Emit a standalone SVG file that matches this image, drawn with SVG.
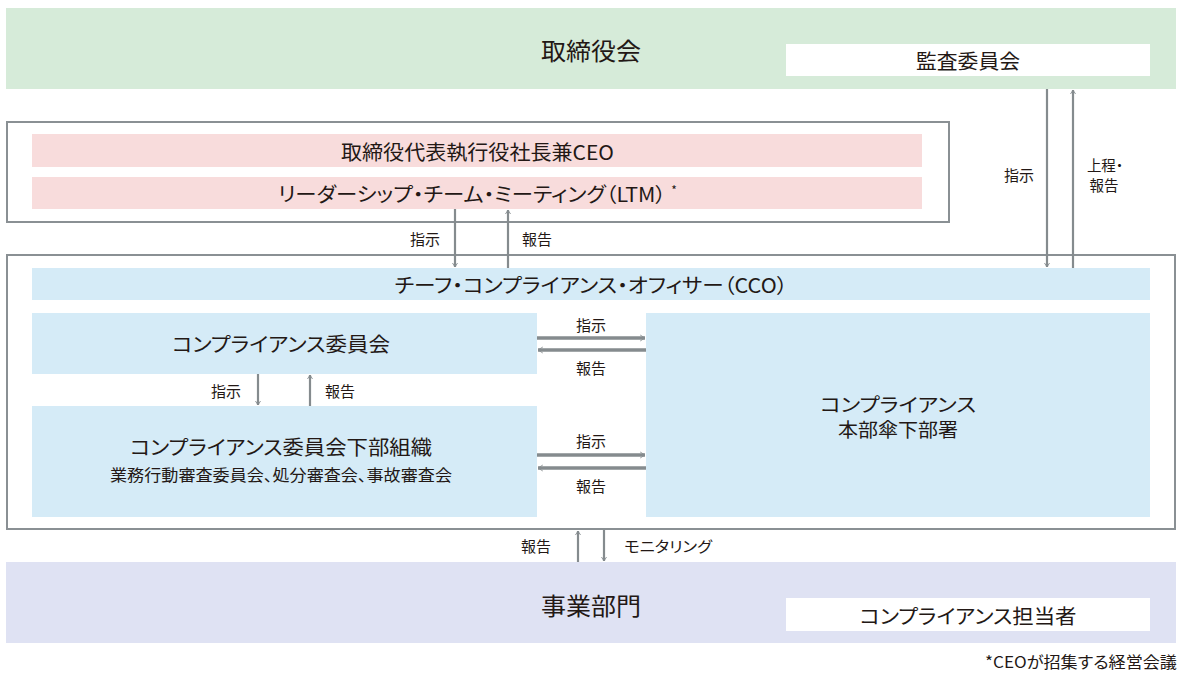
<svg xmlns="http://www.w3.org/2000/svg" width="1188" height="677" viewBox="0 0 1188 677">
<style>
text{font-family:"Noto Sans CJK JP","Noto Sans",sans-serif;fill:#231815;text-anchor:middle;dominant-baseline:central;font-feature-settings:"palt"}
.t25{font-size:24px}
.t20{font-size:20px}
.t16{font-size:16px}
.lb{font-size:15px}
.frame{fill:#fff;stroke:#8a9094;stroke-width:2}
.pink{fill:#f8dcdc}
.blue{fill:#d5ebf7}
.ln{stroke:#858b8e;stroke-width:2.2;fill:none;marker-end:url(#ah)}
.lh{stroke:#858b8e;stroke-width:3.5;fill:none;marker-end:url(#ah2)}
</style>
<defs>
<marker id="ah" viewBox="0 0 10 10" refX="9" refY="5" markerWidth="5" markerHeight="5" markerUnits="userSpaceOnUse" orient="auto" overflow="visible">
<path d="M1,0 L9,5 L1,10" fill="none" stroke="#858b8e" stroke-width="1.8"/>
</marker>
<marker id="ah2" viewBox="0 0 10 10" refX="9" refY="5" markerWidth="6" markerHeight="8" markerUnits="userSpaceOnUse" orient="auto" overflow="visible">
<path d="M1,0 L9,5 L1,10" fill="none" stroke="#858b8e" stroke-width="1.4"/>
</marker>
</defs>
<rect width="1188" height="677" fill="#fff"/>
<g id="board">
<rect x="6" y="8" width="1170" height="81" fill="#d6ebd9"/>
<text class="t25" x="591" y="49" textLength="100" lengthAdjust="spacingAndGlyphs">取締役会</text>
</g>
<g id="audit">
<rect x="786" y="44" width="364" height="32" fill="#fff"/>
<text class="t20" x="968" y="60" textLength="104" lengthAdjust="spacingAndGlyphs">監査委員会</text>
</g>
<g id="exec">
<rect class="frame" x="7" y="122" width="942" height="100"/>
<rect class="pink" x="32" y="134" width="890" height="33"/>
<text class="t20" x="477.5" y="151" textLength="273" lengthAdjust="spacingAndGlyphs">取締役代表執行役社長兼CEO</text>
<rect class="pink" x="32" y="177" width="890" height="32"/>
<text class="t20" x="472" y="193" textLength="388" lengthAdjust="spacingAndGlyphs">リーダーシップ・チーム・ミーティング（LTM）</text>
<text x="674" y="189" font-size="12">*</text>
</g>
<g id="compliance">
<rect class="frame" x="7" y="255" width="1168" height="274"/>
</g>
<g id="cco">
<rect class="blue" x="32" y="268" width="1118" height="32"/>
<text class="t20" x="591" y="284" textLength="393" lengthAdjust="spacingAndGlyphs">チーフ・コンプライアンス・オフィサー（CCO）</text>
</g>
<g id="committee">
<rect class="blue" x="32" y="313" width="505" height="61"/>
<text class="t20" x="281" y="343" textLength="218" lengthAdjust="spacingAndGlyphs">コンプライアンス委員会</text>
</g>
<g id="subcommittee">
<rect class="blue" x="32" y="406" width="505" height="111"/>
<text class="t20" x="281" y="446" textLength="302" lengthAdjust="spacingAndGlyphs">コンプライアンス委員会下部組織</text>
<text class="t16" x="281" y="474" textLength="342" lengthAdjust="spacingAndGlyphs">業務行動審査委員会、処分審査会、事故審査会</text>
</g>
<g id="hq">
<rect class="blue" x="646" y="313" width="504" height="204"/>
<text x="898" y="403" font-size="19" textLength="156" lengthAdjust="spacingAndGlyphs">コンプライアンス</text>
<text x="898" y="428" font-size="19" textLength="120" lengthAdjust="spacingAndGlyphs">本部傘下部署</text>
</g>
<g id="business">
<rect x="6" y="562" width="1170" height="81" fill="#dfe2f3"/>
<text class="t25" x="591" y="604" textLength="100" lengthAdjust="spacingAndGlyphs">事業部門</text>
</g>
<g id="officer">
<rect x="786" y="598" width="364" height="33" fill="#fff"/>
<text class="t20" x="968" y="615" textLength="217" lengthAdjust="spacingAndGlyphs">コンプライアンス担当者</text>
</g>
<g id="connectors">
<line class="ln" x1="455" y1="209" x2="455" y2="267"/>
<line class="ln" x1="508" y1="268" x2="508" y2="210"/>
<text class="lb" x="425" y="238">指示</text>
<text class="lb" x="537" y="238">報告</text>
<line class="ln" x1="1047" y1="89" x2="1047" y2="267"/>
<line class="ln" x1="1073" y1="268" x2="1073" y2="90"/>
<text class="lb" x="1019" y="174">指示</text>
<text x="1105" y="164" font-size="14.5">上程・</text>
<text x="1104" y="184" font-size="14.5">報告</text>
<line class="ln" x1="258" y1="374" x2="258" y2="405"/>
<line class="ln" x1="310" y1="406" x2="310" y2="375"/>
<text class="lb" x="226" y="390">指示</text>
<text class="lb" x="340" y="390">報告</text>
<line class="lh" x1="537" y1="338" x2="645" y2="338"/>
<line class="lh" x1="646" y1="350" x2="538" y2="350"/>
<text class="lb" x="591" y="324">指示</text>
<text class="lb" x="591" y="367">報告</text>
<line class="lh" x1="537" y1="455" x2="645" y2="455"/>
<line class="lh" x1="646" y1="468" x2="538" y2="468"/>
<text class="lb" x="591" y="440">指示</text>
<text class="lb" x="591" y="485">報告</text>
<line class="ln" x1="578" y1="562" x2="578" y2="531"/>
<line class="ln" x1="604" y1="530" x2="604" y2="561"/>
<text class="lb" x="536" y="545">報告</text>
<text class="lb" x="668" y="545" textLength="88" lengthAdjust="spacingAndGlyphs">モニタリング</text>
</g>
<text x="1177" y="661" font-size="16" style="text-anchor:end" textLength="192" lengthAdjust="spacingAndGlyphs">*CEOが招集する経営会議</text>
</svg>
